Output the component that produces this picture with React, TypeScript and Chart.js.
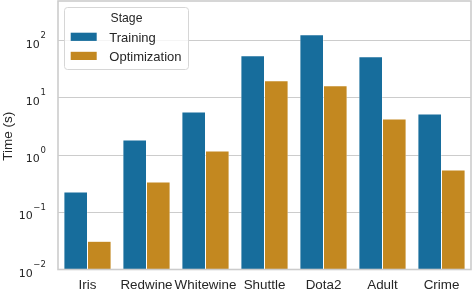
import React, { useEffect, useRef } from "react";
import { Chart, registerables } from "chart.js";

Chart.register(...registerables);

const categories = ["Iris", "Redwine", "Whitewine", "Shuttle", "Dota2", "Adult", "Crime"];
const trainingTimes = [0.225, 1.83, 5.66, 54.2, 126, 52, 5.22];
const optimizationTimes = [0.0312, 0.337, 1.17, 19.8, 16.2, 4.27, 0.546];
const seriesNames = ["Training", "Optimization"];
const legendTitle = "Stage";
const yTitle = "Time (s)";
const yTickValues = [0.01, 0.1, 1, 10, 100];
const yMin = 0.01;
const yMax = 490;

const BLUE = "#176d9c";
const ORANGE = "#c38820";
const TEXT = "#262626";
const GRID = "#cccccc";
const SANS = '"Liberation Sans", Arial, sans-serif';
const MATH = '"DejaVu Sans", sans-serif';

const decorPlugin = {
  id: "decor",
  afterDatasetsDraw(chart: any) {
    const ctx = chart.ctx;
    const a = chart.chartArea;
    ctx.save();
    // frame (spines)
    ctx.strokeStyle = GRID;
    ctx.lineWidth = 1.6;
    ctx.strokeRect(a.left, a.top, a.right - a.left, a.bottom - a.top);

    // legend box
    const bx = a.left + 6.5;
    const by = 7.5;
    const bw = 124;
    const bh = 62;
    ctx.beginPath();
    (ctx as any).roundRect(bx, by, bw, bh, 3);
    ctx.fillStyle = "rgba(255,255,255,0.8)";
    ctx.fill();
    ctx.lineWidth = 1;
    ctx.strokeStyle = "#d6d6d6";
    ctx.stroke();

    ctx.fillStyle = TEXT;
    ctx.font = `12.2px ${SANS}`;
    ctx.textAlign = "center";
    ctx.textBaseline = "alphabetic";
    ctx.fillText(legendTitle, bx + bw / 2, 21.7);

    const colors = [BLUE, ORANGE];
    const rows = [32.7, 51.8];
    const bases = [41.7, 60.8];
    ctx.textAlign = "left";
    ctx.font = `13px ${SANS}`;
    for (let i = 0; i < seriesNames.length; i++) {
      ctx.fillStyle = colors[i];
      ctx.fillRect(bx + 6.2, rows[i], 26, 8.2);
      ctx.fillStyle = TEXT;
      ctx.fillText(seriesNames[i], bx + 44.8, bases[i]);
    }
    ctx.restore();
  },
  afterDraw(chart: any) {
    const ctx = chart.ctx;
    const a = chart.chartArea;
    const ys = chart.scales.y;
    ctx.save();
    ctx.fillStyle = TEXT;
    ctx.textBaseline = "alphabetic";
    ctx.textAlign = "left";
    const right = 45.8;
    for (const v of yTickValues) {
      const py = ys.getPixelForValue(v);
      const e = Math.round(Math.log10(v));
      const expStr = e < 0 ? "\u2212" + String(-e) : String(e);
      ctx.font = `11px ${MATH}`;
      const wBase = ctx.measureText("10").width;
      ctx.font = `8.5px ${MATH}`;
      const wExp = ctx.measureText(expStr).width;
      const x0 = right - wBase - wExp - 0.6;
      ctx.font = `11px ${MATH}`;
      ctx.fillText("10", x0, py + 7);
      ctx.font = `8.5px ${MATH}`;
      ctx.fillText(expStr, x0 + wBase + 0.6, py - 2.5);
    }
    // y axis title
    ctx.font = `13.5px ${SANS}`;
    ctx.textAlign = "center";
    ctx.translate(11.5, (a.top + a.bottom) / 2 + 1);
    ctx.rotate(-Math.PI / 2);
    ctx.fillText(yTitle, 0, 0);
    ctx.restore();
  },
};

export default function App() {
  const ref = useRef<HTMLCanvasElement | null>(null);
  useEffect(() => {
    if (!ref.current) return;
    const chart = new Chart(ref.current, {
      type: "bar",
      data: {
        labels: categories,
        datasets: [
          {
            label: seriesNames[0],
            data: trainingTimes,
            backgroundColor: BLUE,
            borderColor: "#ffffff",
            borderWidth: { top: 0.5, left: 0.5, right: 0.5, bottom: 0 },
            borderSkipped: "start",
          },
          {
            label: seriesNames[1],
            data: optimizationTimes,
            backgroundColor: ORANGE,
            borderColor: "#ffffff",
            borderWidth: { top: 0.5, left: 0.5, right: 0.5, bottom: 0 },
            borderSkipped: "start",
          },
        ],
      },
      options: {
        animation: false,
        responsive: false,
        maintainAspectRatio: false,
        layout: { padding: { top: 1, right: 1, left: 0, bottom: 0 } },
        datasets: { bar: { categoryPercentage: 0.8, barPercentage: 1.0 } },
        plugins: {
          legend: { display: false },
          tooltip: { enabled: false },
          title: { display: false },
        },
        scales: {
          x: {
            type: "category",
            grid: { display: false, drawTicks: false },
            border: { display: false },
            ticks: {
              color: TEXT,
              font: { family: SANS, size: 13.4 },
              padding: 8,
              maxRotation: 0,
              autoSkip: false,
            },
            afterFit: (s: any) => {
              s.height = 22.5;
            },
          },
          y: {
            type: "logarithmic",
            min: yMin,
            max: yMax,
            grid: { color: GRID, lineWidth: 1, drawTicks: false },
            border: { display: false },
            ticks: { display: false },
            afterBuildTicks: (s: any) => {
              s.ticks = yTickValues.map((v) => ({ value: v }));
            },
            afterFit: (s: any) => {
              s.width = 58;
            },
          },
        },
      },
      plugins: [decorPlugin],
    });
    return () => chart.destroy();
  }, []);
  return (
    <div style={{ position: "fixed", left: 0, top: 0, width: 472, height: 292, background: "#fff" }}>
      <canvas ref={ref} width={472} height={292} style={{ width: 472, height: 292, display: "block" }} />
    </div>
  );
}
